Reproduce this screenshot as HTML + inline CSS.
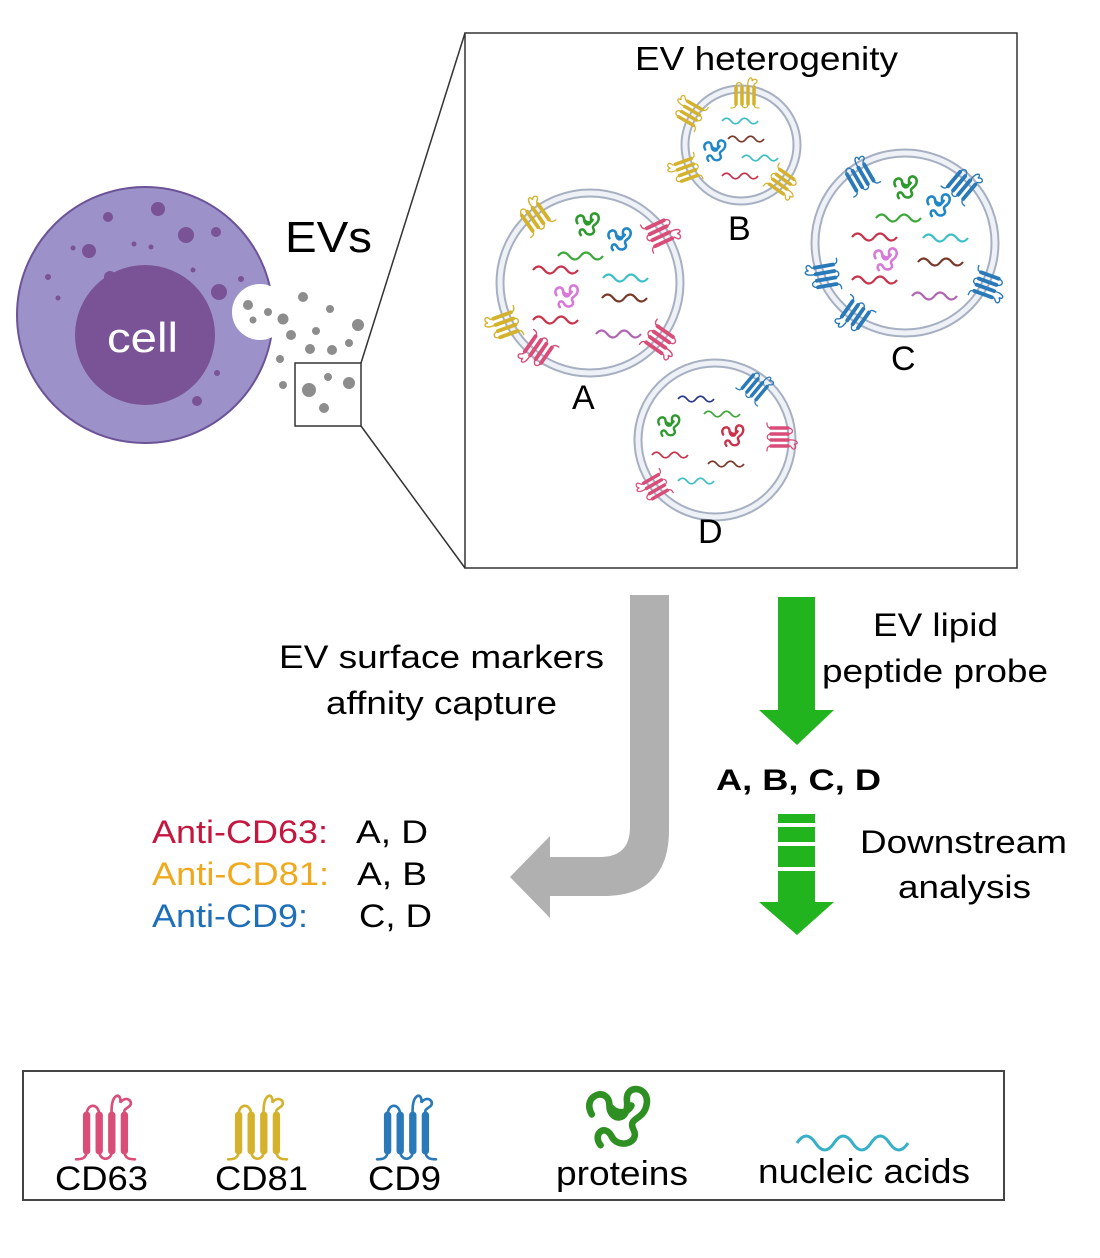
<!DOCTYPE html>
<html><head><meta charset="utf-8"><style>
html,body{margin:0;padding:0;background:#fff}
svg{display:block}
text{font-family:"Liberation Sans",Arial,sans-serif}
</style></head><body>
<svg width="1100" height="1258" viewBox="0 0 1100 1258" xmlns="http://www.w3.org/2000/svg">
<defs>
<g id="tsp" fill="none" stroke-linecap="round">
 <line x1="12" y1="24" x2="12" y2="58" stroke-width="7"/>
 <line x1="24" y1="24" x2="24" y2="58" stroke-width="7"/>
 <line x1="36" y1="24" x2="36" y2="58" stroke-width="7"/>
 <line x1="48" y1="24" x2="48" y2="58" stroke-width="7"/>
 <path d="M12 24 C12 12 24 12 24 24 M24 58 C24 68 36 68 36 58 M36 24 C34 2 46 2 44 12 C50 4 58 12 52 16 C47 20 48 18 48 24 M12 58 C12 66 6 66 2 66 M48 58 C48 66 54 66 58 66" stroke-width="2.5"/>
</g>
<path id="w" fill="none" stroke-width="2.2" d="M0 0 q5.6 -7 11.25 0 t11.25 0 t11.25 0 t11.25 0"/>
<path id="p" fill="none" stroke-width="3" stroke-linecap="round" d="M4 12 c-5 -9 8 -13 8 -4 c0 7 9 8 8 -2 c-1 -8 10 -7 9 1 c-1 8 -9 6 -6 12 c3 6 -7 9 -10 3 c-3 -6 -9 -1 -5 4 M12 8 c3 4 8 4 10 0"/>
</defs>

<circle cx="145" cy="315" r="128" fill="#9c92c9" stroke="#6c5398" stroke-width="2"/>
<circle cx="145" cy="335" r="70" fill="#7a5296"/>
<g fill="#7a5296">
<circle cx="158" cy="209" r="7"/><circle cx="108" cy="217" r="5"/><circle cx="186" cy="235" r="8"/><circle cx="216" cy="232" r="5"/>
<circle cx="89" cy="251" r="7"/><circle cx="134" cy="244" r="2.5"/><circle cx="151" cy="247" r="2.5"/><circle cx="73" cy="248" r="2.5"/><circle cx="110" cy="277" r="6"/>
<circle cx="48" cy="277" r="3"/><circle cx="219" cy="292" r="8"/><circle cx="241" cy="279" r="3"/><circle cx="58" cy="298" r="2.5"/><circle cx="197" cy="401" r="5"/><circle cx="217" cy="373" r="3"/><circle cx="193" cy="270" r="2.5"/>
</g>
<text x="107" y="352" font-size="42" fill="#fff" textLength="71" lengthAdjust="spacingAndGlyphs">cell</text>
<circle cx="260" cy="312" r="28" fill="#fff"/>
<g fill="#8d8d8d">
<circle cx="248" cy="305" r="5"/><circle cx="268" cy="312" r="4"/><circle cx="253" cy="320" r="3.5"/>
<circle cx="283" cy="319" r="5.5"/><circle cx="291" cy="335" r="5"/><circle cx="316" cy="331" r="4"/><circle cx="303" cy="297" r="5"/><circle cx="330" cy="309" r="4"/>
<circle cx="358" cy="325" r="6"/><circle cx="349" cy="343" r="4"/><circle cx="310" cy="349" r="5"/><circle cx="332" cy="350" r="5"/><circle cx="280" cy="359" r="4"/>
<circle cx="283" cy="385" r="4"/><circle cx="309" cy="390" r="7"/><circle cx="328" cy="377" r="4"/><circle cx="349" cy="383" r="6"/><circle cx="324" cy="408" r="5"/>
</g>
<rect x="295" y="363" width="66" height="63" fill="none" stroke="#333" stroke-width="1.5"/>
<line x1="361" y1="363" x2="465" y2="33" stroke="#333" stroke-width="1.5"/>
<line x1="361" y1="426" x2="465" y2="568" stroke="#333" stroke-width="1.5"/>
<text x="285" y="252" font-size="44" textLength="87" lengthAdjust="spacingAndGlyphs">EVs</text>

<rect x="465" y="33" width="552" height="535" fill="#fff" stroke="#333" stroke-width="1.5"/>
<text x="635" y="70" font-size="33" textLength="263" lengthAdjust="spacingAndGlyphs">EV heterogenity</text>

<g fill="none">
<circle cx="590" cy="283" r="90" stroke="#a7b0c2" stroke-width="9"/><circle cx="590" cy="283" r="90" stroke="#eef1f6" stroke-width="5"/>
<circle cx="741" cy="145" r="56" stroke="#a7b0c2" stroke-width="9"/><circle cx="741" cy="145" r="56" stroke="#eef1f6" stroke-width="5"/>
<circle cx="905" cy="243" r="90" stroke="#a7b0c2" stroke-width="9"/><circle cx="905" cy="243" r="90" stroke="#eef1f6" stroke-width="5"/>
<circle cx="715" cy="440" r="77" stroke="#a7b0c2" stroke-width="9"/><circle cx="715" cy="440" r="77" stroke="#eef1f6" stroke-width="5"/>
</g>
<g>
<use href="#tsp" stroke="#d4b22c" transform="translate(535,217) rotate(-35) scale(.55) translate(-30,-40)"/>
<use href="#tsp" stroke="#d94d78" transform="translate(660,233) rotate(65) scale(.55) translate(-30,-40)"/>
<use href="#tsp" stroke="#d4b22c" transform="translate(505,325) rotate(250) scale(.55) translate(-30,-40)"/>
<use href="#tsp" stroke="#d94d78" transform="translate(538,350) rotate(215) scale(.55) translate(-30,-40)"/>
<use href="#tsp" stroke="#d94d78" transform="translate(660,340) rotate(125) scale(.55) translate(-30,-40)"/>

<use href="#tsp" stroke="#d4b22c" transform="translate(745,95) rotate(0) scale(.5) translate(-30,-40)"/>
<use href="#tsp" stroke="#d4b22c" transform="translate(690,113) rotate(-60) scale(.5) translate(-30,-40)"/>
<use href="#tsp" stroke="#d4b22c" transform="translate(686,170) rotate(250) scale(.5) translate(-30,-40)"/>
<use href="#tsp" stroke="#d4b22c" transform="translate(782,182) rotate(125) scale(.5) translate(-30,-40)"/>

<use href="#tsp" stroke="#2a79b8" transform="translate(860,177) rotate(-30) scale(.55) translate(-30,-40)"/>
<use href="#tsp" stroke="#2a79b8" transform="translate(962,185) rotate(40) scale(.55) translate(-30,-40)"/>
<use href="#tsp" stroke="#2a79b8" transform="translate(825,276) rotate(260) scale(.55) translate(-30,-40)"/>
<use href="#tsp" stroke="#2a79b8" transform="translate(855,315) rotate(215) scale(.55) translate(-30,-40)"/>
<use href="#tsp" stroke="#2a79b8" transform="translate(987,285) rotate(110) scale(.55) translate(-30,-40)"/>

<use href="#tsp" stroke="#2a79b8" transform="translate(755,387) rotate(40) scale(.5) translate(-30,-40)"/>
<use href="#tsp" stroke="#d94d78" transform="translate(780,437) rotate(90) scale(.5) translate(-30,-40)"/>
<use href="#tsp" stroke="#d94d78" transform="translate(655,487) rotate(240) scale(.5) translate(-30,-40)"/>
</g>
<g>
<use href="#w" stroke="#3da83a" transform="translate(558,256)"/>
<use href="#w" stroke="#c8324a" transform="translate(533,270)"/>
<use href="#w" stroke="#3fbfc6" transform="translate(603,278)"/>
<use href="#w" stroke="#7a3a2a" transform="translate(602,298)"/>
<use href="#w" stroke="#c8324a" transform="translate(533,320)"/>
<use href="#w" stroke="#b065b0" transform="translate(596,334)"/>
<use href="#p" stroke="#2e9a2e" transform="translate(574,213) scale(.85)"/>
<use href="#p" stroke="#1f86c8" transform="translate(606,228) scale(.85)"/>
<use href="#p" stroke="#d878d8" transform="translate(553,285) scale(.85)"/>

<use href="#w" stroke="#3fbfc6" transform="translate(722,121) scale(.8)"/>
<use href="#w" stroke="#7a3a2a" transform="translate(728,139) scale(.8)"/>
<use href="#w" stroke="#3fbfc6" transform="translate(742,158) scale(.8)"/>
<use href="#w" stroke="#c8324a" transform="translate(722,176) scale(.8)"/>
<use href="#p" stroke="#1f86c8" transform="translate(702,140) scale(.8)"/>

<use href="#w" stroke="#3da83a" transform="translate(876,218)"/>
<use href="#w" stroke="#c8324a" transform="translate(852,237)"/>
<use href="#w" stroke="#3fbfc6" transform="translate(923,238)"/>
<use href="#w" stroke="#7a3a2a" transform="translate(918,262)"/>
<use href="#w" stroke="#c8324a" transform="translate(852,280)"/>
<use href="#w" stroke="#b065b0" transform="translate(912,296)"/>
<use href="#p" stroke="#2e9a2e" transform="translate(892,176) scale(.85)"/>
<use href="#p" stroke="#1f86c8" transform="translate(925,194) scale(.85)"/>
<use href="#p" stroke="#d878d8" transform="translate(872,248) scale(.85)"/>

<use href="#w" stroke="#2a3a8a" transform="translate(678,399) scale(.8)"/>
<use href="#w" stroke="#3da83a" transform="translate(704,414) scale(.8)"/>
<use href="#w" stroke="#c8324a" transform="translate(652,455) scale(.8)"/>
<use href="#w" stroke="#7a3a2a" transform="translate(708,464) scale(.8)"/>
<use href="#w" stroke="#3fbfc6" transform="translate(678,481) scale(.8)"/>
<use href="#p" stroke="#2e9a2e" transform="translate(656,415) scale(.8)"/>
<use href="#p" stroke="#c8324a" transform="translate(720,425) scale(.8)"/>
</g>
<g font-size="34">
<text x="572" y="409">A</text><text x="728" y="240">B</text><text x="891" y="370">C</text><text x="698" y="543">D</text>
</g>

<path d="M630 595 H669 V830 Q669 896 603 896 H550 V918 L510 877 L550 836 V857 H600 Q630 857 630 827 Z" fill="#b0b0b0"/>
<g fill="#22b41e">
<rect x="778" y="597" width="37" height="113"/>
<polygon points="759,710 834,710 797,745"/>
<rect x="778" y="814" width="37" height="9"/>
<rect x="778" y="827" width="37" height="15"/>
<rect x="778" y="846" width="37" height="21"/>
<rect x="778" y="871" width="37" height="31"/>
<polygon points="759,902 834,902 797,935"/>
</g>

<g font-size="32" lengthAdjust="spacingAndGlyphs">
<text x="279" y="668" textLength="325" lengthAdjust="spacingAndGlyphs">EV surface markers</text>
<text x="326" y="714" textLength="231" lengthAdjust="spacingAndGlyphs">affnity capture</text>
<text x="873" y="636" textLength="125" lengthAdjust="spacingAndGlyphs">EV lipid</text>
<text x="822" y="682" textLength="226" lengthAdjust="spacingAndGlyphs">peptide probe</text>
<text x="860" y="853" textLength="207" lengthAdjust="spacingAndGlyphs">Downstream</text>
<text x="898" y="898" textLength="133" lengthAdjust="spacingAndGlyphs">analysis</text>
</g>
<text x="716" y="790" font-size="30" font-weight="bold" textLength="165" lengthAdjust="spacingAndGlyphs">A, B, C, D</text>
<g font-size="32">
<text x="152" y="843" fill="#c4163f" textLength="176" lengthAdjust="spacingAndGlyphs">Anti-CD63:</text><text x="356" y="843" textLength="72" lengthAdjust="spacingAndGlyphs">A, D</text>
<text x="152" y="885" fill="#f0a91e" textLength="177" lengthAdjust="spacingAndGlyphs">Anti-CD81:</text><text x="357" y="885" textLength="70" lengthAdjust="spacingAndGlyphs">A, B</text>
<text x="152" y="927" fill="#1f6fb8" textLength="156" lengthAdjust="spacingAndGlyphs">Anti-CD9:</text><text x="359" y="927" textLength="73" lengthAdjust="spacingAndGlyphs">C, D</text>
</g>

<rect x="23" y="1071" width="981" height="129" fill="#fff" stroke="#444" stroke-width="2"/>
<use href="#tsp" stroke="#d94d78" transform="translate(74,1090) scale(1.05)"/>
<use href="#tsp" stroke="#d4b22c" transform="translate(226,1090) scale(1.05)"/>
<use href="#tsp" stroke="#2a79b8" transform="translate(375,1090) scale(1.05)"/>
<use href="#p" stroke="#2e8f22" transform="translate(583,1088) scale(2.2)" stroke-width="2.3"/>
<path d="M797 1143 q9.25 -14 18.5 0 t18.5 0 t18.5 0 t18.5 0 t18.5 0 t18.5 0" fill="none" stroke="#36b0c8" stroke-width="3"/>
<g font-size="34">
<text x="55" y="1190" textLength="93" lengthAdjust="spacingAndGlyphs">CD63</text>
<text x="215" y="1190" textLength="93" lengthAdjust="spacingAndGlyphs">CD81</text>
<text x="368" y="1190" textLength="73" lengthAdjust="spacingAndGlyphs">CD9</text>
<text x="556" y="1185" textLength="132" lengthAdjust="spacingAndGlyphs">proteins</text>
<text x="758" y="1183" textLength="212" lengthAdjust="spacingAndGlyphs">nucleic acids</text>
</g>
</svg>
</body></html>
